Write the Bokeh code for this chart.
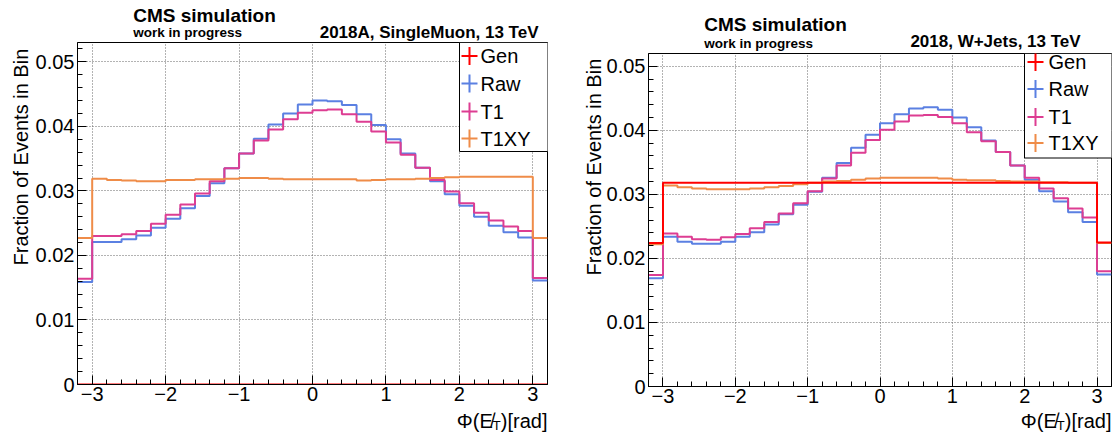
import numpy as np
from bokeh.plotting import figure
from bokeh.layouts import row, column
from bokeh.models import FixedTicker, Label, BoxAnnotation, Arrow, Range1d
from bokeh.core.properties import value
from bokeh.embed import file_html
from bokeh.resources import INLINE

# ---- binning: 32 bins of 0.2 rad between -3.2 and 3.2 ----
bin_lo, bin_hi, n_bins = -3.2, 3.2, 32
edges = np.linspace(bin_lo, bin_hi, n_bins + 1)

# ---- 2018A SingleMuon (data: no generator-level MET) ----
mu_gen = [0.0] * 32
mu_raw = [0.0159, 0.0221, 0.0221, 0.0225, 0.0231, 0.0243, 0.0257, 0.0273,
          0.0292, 0.0312, 0.0335, 0.0358, 0.0381, 0.0403, 0.0420, 0.0434,
          0.0440, 0.0439, 0.0433, 0.0419, 0.0402, 0.0380, 0.0358, 0.0336,
          0.0315, 0.0295, 0.0277, 0.0260, 0.0246, 0.0236, 0.0228, 0.0161]
mu_t1 = [0.0164, 0.0230, 0.0230, 0.0233, 0.0238, 0.0249, 0.0263, 0.0279,
         0.0296, 0.0315, 0.0335, 0.0358, 0.0378, 0.0395, 0.0411, 0.0421,
         0.0425, 0.0426, 0.0419, 0.0407, 0.0392, 0.0375, 0.0356, 0.0336,
         0.0317, 0.0299, 0.0281, 0.0266, 0.0254, 0.0245, 0.0238, 0.0165]
mu_t1xy = [0.0227, 0.0319, 0.0317, 0.0316, 0.0315, 0.0315, 0.0317, 0.0317,
           0.0318, 0.0318, 0.0319, 0.0320, 0.0320, 0.0319, 0.0318, 0.0318,
           0.0318, 0.0318, 0.0318, 0.0316, 0.0317, 0.0318, 0.0318, 0.0319,
           0.0320, 0.0321, 0.0322, 0.0322, 0.0322, 0.0322, 0.0322, 0.0227]

# ---- 2018 W+Jets simulation ----
wj_gen = [0.0224, 0.0318, 0.0318, 0.0318, 0.0318, 0.0318, 0.0318, 0.0318,
          0.0318, 0.0318, 0.0318, 0.0318, 0.0318, 0.0318, 0.0318, 0.0318,
          0.0318, 0.0318, 0.0318, 0.0318, 0.0318, 0.0318, 0.0318, 0.0318,
          0.0318, 0.0318, 0.0318, 0.0318, 0.0318, 0.0318, 0.0318, 0.0225]
wj_raw = [0.0169, 0.0234, 0.0226, 0.0223, 0.0223, 0.0226, 0.0234, 0.0241,
          0.0253, 0.0269, 0.0284, 0.0304, 0.0326, 0.0349, 0.0373, 0.0393,
          0.0411, 0.0425, 0.0434, 0.0436, 0.0432, 0.0420, 0.0405, 0.0384,
          0.0366, 0.0345, 0.0323, 0.0305, 0.0289, 0.0272, 0.0257, 0.0175]
wj_t1 = [0.0174, 0.0239, 0.0234, 0.0230, 0.0229, 0.0233, 0.0238, 0.0247,
         0.0257, 0.0270, 0.0286, 0.0305, 0.0325, 0.0345, 0.0365, 0.0385,
         0.0401, 0.0414, 0.0423, 0.0424, 0.0421, 0.0411, 0.0397, 0.0383,
         0.0366, 0.0345, 0.0326, 0.0309, 0.0294, 0.0278, 0.0264, 0.0180]
wj_t1xy = [0.0222, 0.0314, 0.0311, 0.0309, 0.0308, 0.0308, 0.0308, 0.0309,
           0.0311, 0.0313, 0.0316, 0.0318, 0.0320, 0.0321, 0.0323, 0.0325,
           0.0326, 0.0326, 0.0326, 0.0326, 0.0325, 0.0323, 0.0322, 0.0322,
           0.0321, 0.0320, 0.0320, 0.0319, 0.0319, 0.0318, 0.0318, 0.0224]

series_names = ["Gen", "Raw", "T1", "T1XY"]
series_colors = {"Gen": "#ff0000", "Raw": "#5b80e2", "T1": "#dd3d92", "T1XY": "#ef8c48"}
draw_order = ["Raw", "T1", "T1XY", "Gen"]

x_major = [-3, -2, -1, 0, 1, 2, 3]
x_labels = ["\u22123", "\u22122", "\u22121", "0", "1", "2", "3"]
y_major = [0.0, 0.01, 0.02, 0.03, 0.04, 0.05]
y_labels = ["0", "0.01", "0.02", "0.03", "0.04", "0.05"]

FONT = "Liberation Sans"


def strip(w, h, b_left=0, b_right=0):
    """Plain drawing area (no axes) whose data units are pixels of its frame."""
    fw = w - b_left - b_right
    s = figure(width=w, height=h, x_range=Range1d(0, fw), y_range=Range1d(0, h),
               min_border_left=b_left, min_border_right=b_right,
               min_border_top=0, min_border_bottom=0,
               x_axis_type=None, y_axis_type=None,
               output_backend="svg", toolbar_location=None)
    s.outline_line_color = None
    s.background_fill_color = "white"
    s.border_fill_color = "white"
    return s


def put_text(s, x, y, txt, size, bold=False, align="left", angle=0.0):
    s.text(x=[x], y=[y], text=[txt], angle=angle, text_font=value(FONT),
           text_font_style="bold" if bold else "normal", text_font_size=size,
           text_baseline="middle", text_align=align, text_color="black")


def make_panel(hists, ymax, cfg):
    W, ylab_w = cfg["width"], cfg["ylab_w"]
    main_w = W - ylab_w
    b_left, frame_w = cfg["b_left"], cfg["frame_w"]
    b_right = main_w - b_left - frame_w
    frame_h, b_bottom = cfg["frame_h"], cfg["b_bottom"]
    hdr_h, ftr_h = cfg["hdr_h"], cfg["ftr_h"]

    p = figure(width=main_w, height=1 + frame_h + b_bottom,
               min_border_left=b_left, min_border_right=b_right,
               min_border_top=1, min_border_bottom=b_bottom,
               x_range=Range1d(bin_lo, bin_hi), y_range=Range1d(0, ymax),
               output_backend="svg", toolbar_location=None)
    p.background_fill_color = "white"
    p.border_fill_color = "white"
    p.outline_line_color = "black"
    p.outline_line_width = 1
    p.outline_line_alpha = 1

    # axes in the ROOT style: ticks pointing into the frame
    p.xaxis.ticker = FixedTicker(ticks=x_major,
                                 minor_ticks=list(np.round(np.arange(-3.2, 3.21, 0.2), 2)))
    p.yaxis.ticker = FixedTicker(ticks=y_major,
                                 minor_ticks=list(np.round(np.arange(0, ymax, 0.002), 3)))
    p.xaxis.major_label_overrides = dict(zip(x_major, x_labels))
    p.yaxis.major_label_overrides = dict(zip(y_major, y_labels))
    for ax in (p.xaxis, p.yaxis):
        ax.axis_line_color = "black"
        ax.major_tick_line_color = "black"
        ax.minor_tick_line_color = "black"
        ax.major_tick_out = 0
        ax.minor_tick_out = 0
        ax.major_label_text_font = FONT
        ax.major_label_text_font_size = "20px"
        ax.major_label_text_color = "black"
    p.xaxis.major_tick_in = 9
    p.xaxis.minor_tick_in = 5
    p.yaxis.major_tick_in = 9
    p.yaxis.minor_tick_in = 5
    p.xaxis.major_label_standoff = 2
    p.yaxis.major_label_standoff = 3

    for g in (p.xgrid, p.ygrid):
        g.grid_line_color = "#666666"
        g.grid_line_dash = "1 2"
        g.grid_line_width = 1

    # step histograms
    for name in draw_order:
        vals = list(hists[name])
        p.step(x=edges, y=vals + [vals[-1]], mode="after",
               line_color=series_colors[name], line_width=2)

    # legend box with cross markers
    lg = cfg["legend"]
    p.add_layout(BoxAnnotation(left=lg["left"], right=frame_w, top=frame_h, bottom=lg["bottom"],
                               left_units="screen", right_units="screen",
                               top_units="screen", bottom_units="screen",
                               fill_color="white", fill_alpha=1,
                               line_color="black", line_width=1, line_alpha=1))
    for name, yc in zip(series_names, lg["rows"]):
        col = series_colors[name]
        cx = lg["mx"]
        p.add_layout(Arrow(x_start=cx - 8, y_start=yc, x_end=cx + 8, y_end=yc,
                           start_units="screen", end_units="screen", start=None, end=None,
                           line_color=col, line_width=2))
        p.add_layout(Arrow(x_start=cx, y_start=yc - 9, x_end=cx, y_end=yc + 9,
                           start_units="screen", end_units="screen", start=None, end=None,
                           line_color=col, line_width=2))
        p.add_layout(Label(x=lg["tx"], y=yc, x_units="screen", y_units="screen",
                           text=name, text_font=FONT, text_font_size="20px",
                           text_baseline="middle", text_color="black"))

    # header: experiment tag and sample description
    hy = cfg["hdr_y"]
    hdr = strip(main_w, hdr_h, b_left, b_right)
    put_text(hdr, 56, hy[0], "CMS simulation", "19px", bold=True)
    put_text(hdr, 56, hy[1], "work in progress", "13.5px", bold=True)
    put_text(hdr, cfg["rt_x"], hy[2], cfg["title_right"], "17px", bold=True, align="right")

    # footer: x-axis title, right aligned to the frame
    ftr = strip(main_w, ftr_h, b_left, b_right)
    put_text(ftr, frame_w, 11.5, ")[rad]", "20px", align="right")
    put_text(ftr, frame_w - 47, 7, "T", "13px", align="right")
    put_text(ftr, frame_w - 55, 11.5, "\u03a6(E\u0338", "20px", align="right")

    # y-axis title, rotated, reading upwards towards the top of the frame
    ylab = strip(ylab_w, 432)
    put_text(ylab, cfg["yl_x"], cfg["yl_y"], "Fraction of Events in Bin", "20px",
             angle=np.pi / 2)

    return row(ylab, column(hdr, p, ftr))


left = make_panel(
    {"Gen": mu_gen, "Raw": mu_raw, "T1": mu_t1, "T1XY": mu_t1xy},
    ymax=0.053,
    cfg=dict(width=560, ylab_w=32, b_left=43, frame_w=472, frame_h=342, b_bottom=26,
             hdr_h=41, ftr_h=22, rt_x=463, title_right="2018A, SingleMuon, 13 TeV",
             hdr_y=(26.5, 8.6, 9.3),
             yl_x=20, yl_y=432 - 265,
             legend=dict(left=382, bottom=233, rows=[328.5, 301, 273, 246], mx=392, tx=403)))

right = make_panel(
    {"Gen": wj_gen, "Raw": wj_raw, "T1": wj_t1, "T1XY": wj_t1xy},
    ymax=0.052,
    cfg=dict(width=553, ylab_w=43, b_left=43, frame_w=465, frame_h=333, b_bottom=25,
             hdr_h=52, ftr_h=21, rt_x=434, title_right="2018, W+Jets, 13 TeV",
             hdr_y=(27.8, 8.9, 10.8),
             yl_x=33, yl_y=432 - 275,
             legend=dict(left=376, bottom=228.5, rows=[324.5, 297.5, 269.5, 243.5], mx=387, tx=400)))

layout = row(left, right)
open("out.html", "w").write(file_html(layout, INLINE))
